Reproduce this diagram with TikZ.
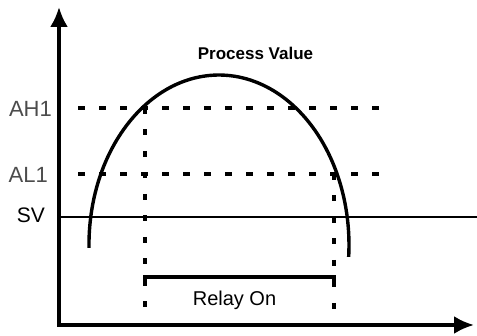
\documentclass[tikz,border=0pt]{standalone}
\usepackage{fontspec}
\setmainfont{Liberation Sans}
\usetikzlibrary{arrows.meta}
\begin{document}
\begin{tikzpicture}[x=1pt,y=1pt,
    axis/.style={line width=3.5pt, {Latex[length=20pt,width=18pt]}-{Latex[length=20pt,width=18pt]}},
    level/.style={line width=4pt, dash pattern=on 7pt off 14pt},
    drop/.style={line width=3.2pt, dash pattern=on 6pt off 15.5pt},
    lbl/.style={font=\fontsize{22}{24}\selectfont, text=black!70, inner sep=0pt, anchor=base east}]
    \useasboundingbox (0,0) rectangle (477,336);
    % Axes
    \coordinate (O) at (59,11);
    \coordinate (ytip) at (59,329);
    \coordinate (xtip) at (474,11);
    \draw[axis] (ytip) -- (O) -- (xtip);
    % Levels
    \node[lbl] (AH) at (52,219) {AH1};
    \node[lbl] (AL) at (48,153) {AL1};
    \node[font=\fontsize{21}{23}\selectfont, inner sep=0pt, anchor=base east] (SV) at (45,113) {SV};
    \coordinate (ahA) at (78,228);  \coordinate (ahB) at (379,228);
    \coordinate (alA) at (78,162);  \coordinate (alB) at (379,162);
    \coordinate (svA) at (59,119);  \coordinate (svB) at (477,119);
    \draw[level] (ahA) -- (ahB);
    \draw[level] (alA) -- (alB);
    \draw[line width=2.8pt] (svA) -- (svB);
    % Process value
    \draw[line width=3.4pt] (89,88) arc[start angle=181, end angle=-4, x radius=130, y radius=170];
    \node[font=\bfseries\fontsize{17}{19}\selectfont] (PV) at (255.5,283) {Process Value};
    % Relay
    \coordinate (onA) at (145,228);  \coordinate (onB) at (145,11);
    \coordinate (offA) at (334,162); \coordinate (offB) at (334,11);
    \draw[drop] (onA) -- (onB);
    \draw[drop] (offA) -- (offB);
    \draw[line width=3.4pt] (145,53) -- (145,59) -- (334,59) -- (334,53);
    \node[font=\fontsize{20}{22}\selectfont, inner sep=0pt, anchor=base] (relay) at (234.5,30) {Relay On};
\end{tikzpicture}
\end{document}
